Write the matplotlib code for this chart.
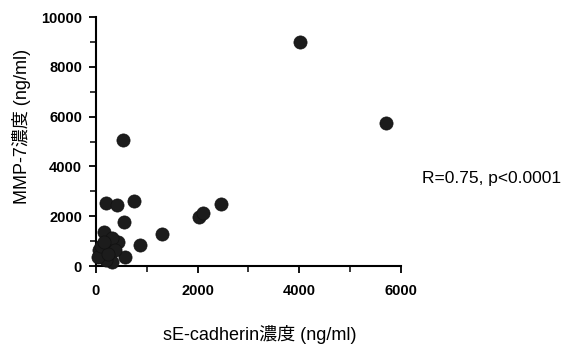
import matplotlib.pyplot as plt
from matplotlib.ticker import MultipleLocator

# sE-cadherin (ng/ml) vs MMP-7 (ng/ml)
se_cadherin = [4020, 5700, 530, 200, 420, 745, 560, 157, 1300, 863, 437, 580,
               2020, 2100, 2460, 60, 125, 255, 290, 320, 320, 190, 50,
               100, 380, 230, 150]
mmp7 = [9000, 5740, 5060, 2540, 2450, 2600, 1760, 1380, 1285, 843, 980, 375,
        1980, 2115, 2490, 640, 375, 910, 575, 170, 1110, 240, 375,
        820, 650, 480, 950]

x_ticks = [0, 2000, 4000, 6000]
y_ticks = [0, 2000, 4000, 6000, 8000, 10000]

fig = plt.figure(figsize=(5.64, 3.47), dpi=100)
ax = fig.add_axes([0.170, 0.233, 0.541, 0.718])

ax.scatter(se_cadherin, mmp7, s=90, color='#1c1c1c', edgecolors='#111111',
           linewidths=0.5, zorder=3, clip_on=False)

ax.set_xlim(0, 6000)
ax.set_ylim(0, 10000)
ax.set_xticks(x_ticks)
ax.set_yticks(y_ticks)
ax.xaxis.set_minor_locator(MultipleLocator(1000))
ax.yaxis.set_minor_locator(MultipleLocator(1000))

for s in ['top', 'right']:
    ax.spines[s].set_visible(False)
for s in ['left', 'bottom']:
    ax.spines[s].set_linewidth(1.5)

ax.tick_params(which='major', direction='out', length=5, width=1.3, pad=5)
ax.tick_params(axis='x', which='major', pad=8)
ax.tick_params(which='minor', direction='out', length=4, width=1.1)
for lab in ax.get_xticklabels() + ax.get_yticklabels():
    lab.set_fontfamily('Liberation Sans')
    lab.set_fontweight('bold')
    lab.set_fontsize(10.5)

fam = ['Liberation Sans', 'Noto Sans CJK JP']
fig.text(0.039, 0.637, 'MMP-7濃度 (ng/ml)', rotation=90, ha='center',
         va='center', fontsize=13, family=fam)
fig.text(0.461, 0.035, 'sE-cadherin濃度 (ng/ml)', ha='center', va='center',
         fontsize=13, family=fam)
fig.text(0.748, 0.485, 'R=0.75, p<0.0001', ha='left', va='center',
         fontsize=12.5, family=fam)

plt.savefig('out.png')
